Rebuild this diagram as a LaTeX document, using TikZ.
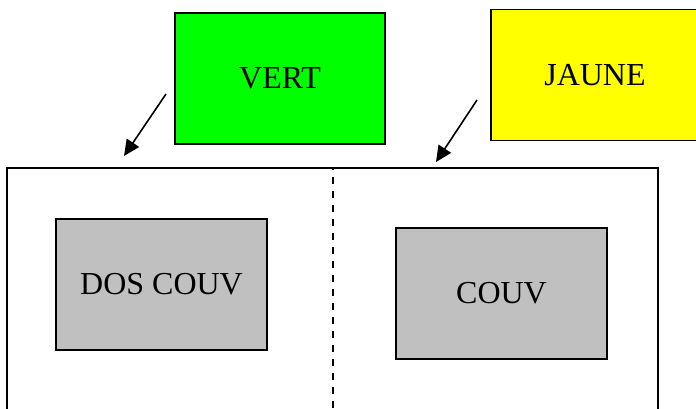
\documentclass[tikz,border=0pt]{standalone}
\usepackage{fontspec}
\setmainfont{Liberation Serif}
\usetikzlibrary{arrows.meta}
\begin{document}
\begin{tikzpicture}[x=0.75pt,y=-0.75pt,
  box/.style={draw=black,line width=1.1pt,rectangle,inner sep=0pt,
    minimum width=158pt,minimum height=98.25pt,
    font=\fontsize{24}{28}\selectfont},
  pagebox/.style={draw=black,line width=1.1pt,rectangle,inner sep=0pt,
    minimum width=488.25pt,minimum height=195pt},
  pointer/.style={line width=1.2pt,-{Triangle[length=12pt,width=11pt]}}
]
\useasboundingbox (0,0) rectangle (696,408);
\clip (0,0) rectangle (696,408);
\node[pagebox] (page) at (332.5,298) {};
\draw[line width=1.5pt,dash pattern=on 5.25pt off 5.25pt,dash phase=3pt] (page.north) -- (page.south);
\node[box,fill={rgb,255:red,0;green,255;blue,0},minimum width=157.5pt] (vert) at (280,78.5) {VERT};
\node[box,fill={rgb,255:red,255;green,255;blue,0},minimum width=156pt] (jaune) at (595,75) {JAUNE};
\node[box,fill={rgb,255:red,192;green,192;blue,192}] (dos) at (161.5,284.5) {DOS COUV};
\node[box,fill={rgb,255:red,192;green,192;blue,192}] (couv) at (501.5,293.5) {COUV};
\coordinate (a1s) at (166,94);
\coordinate (a1e) at (124,156);
\coordinate (a2s) at (477,100);
\coordinate (a2e) at (436,162);
\draw[pointer] (a1s) -- (a1e);
\draw[pointer] (a2s) -- (a2e);
\end{tikzpicture}
\end{document}
